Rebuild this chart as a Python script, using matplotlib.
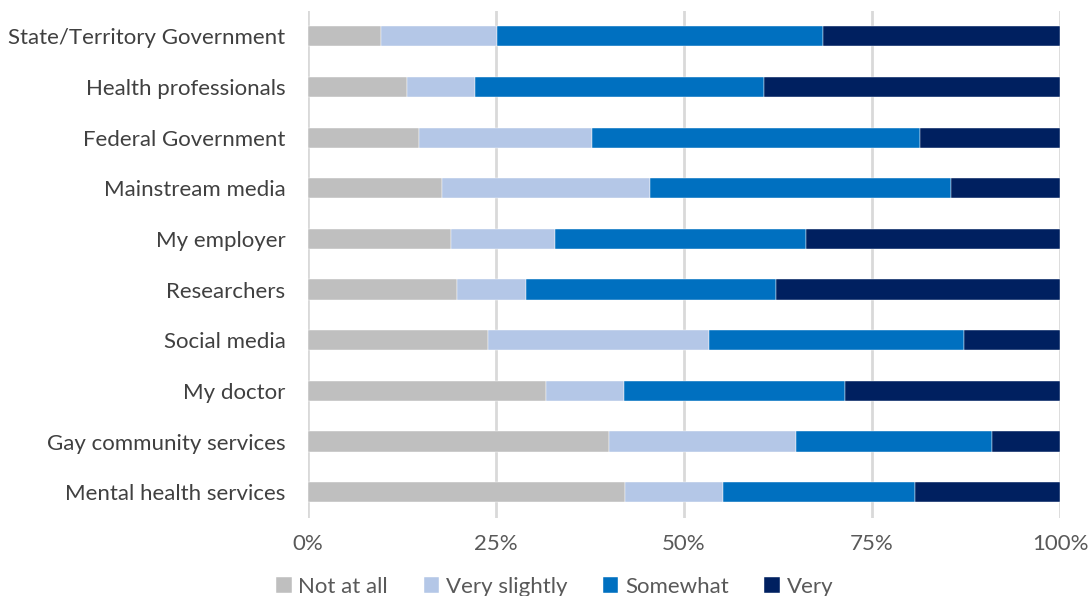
import matplotlib.pyplot as plt
import numpy as np

SOURCES = [
    'State/Territory Government',
    'Health professionals',
    'Federal Government',
    'Mainstream media',
    'My employer',
    'Researchers',
    'Social media',
    'My doctor',
    'Gay community services',
    'Mental health services',
]
NOT_AT_ALL = [9.7, 13.2, 14.8, 17.8, 19.0, 19.8, 23.9, 31.7, 40.1, 42.2]
VERY_SLIGHTLY = [15.4, 9.1, 23.0, 27.7, 13.9, 9.2, 29.4, 10.3, 24.8, 13.0]
SOMEWHAT = [43.4, 38.3, 43.6, 40.0, 33.3, 33.2, 33.9, 29.4, 26.0, 25.5]
VERY = [31.5, 39.4, 18.6, 14.5, 33.8, 37.8, 12.8, 28.6, 9.1, 19.3]

LEVELS = ['Not at all', 'Very slightly', 'Somewhat', 'Very']
COLORS = ['#BFBFBF', '#B4C7E7', '#0070C0', '#002060']

plt.rcParams['font.family'] = ['Lato', 'DejaVu Sans']

fig = plt.figure(figsize=(10.92, 5.96), dpi=100)
ax = fig.add_axes([0.2818, 0.1317, 0.6889, 0.8498])

y = np.arange(len(SOURCES))
left = np.zeros(len(SOURCES))
for name, vals, col in zip(LEVELS, [NOT_AT_ALL, VERY_SLIGHTLY, SOMEWHAT, VERY], COLORS):
    vals = np.array(vals)
    ax.barh(y, vals, left=left, height=0.4, color=col, label=name,
            edgecolor='white', linewidth=0.3, zorder=3)
    left += vals

ax.set_xlim(0, 100)
ax.set_ylim(len(SOURCES) - 0.5, -0.5)
ax.set_yticks(y)
ax.set_yticklabels(SOURCES, fontsize=16, color='#404040')
ax.set_xticks([0, 25, 50, 75, 100])
ax.set_xticklabels(['0%', '25%', '50%', '75%', '100%'], fontsize=16, color='#595959')
ax.tick_params(length=0)
ax.tick_params(axis='x', pad=12)
ax.tick_params(axis='y', pad=16)

for s in ax.spines.values():
    s.set_visible(False)
ax.grid(axis='x', color='#D9D9D9', linewidth=2, zorder=0)

handles, labels = ax.get_legend_handles_labels()
fig.legend(handles, labels, loc='lower center', ncol=4, frameon=False,
           bbox_to_anchor=(0.508, -0.035), fontsize=16, handlelength=0.7,
           handleheight=0.7, handletextpad=0.3, columnspacing=1.6,
           labelcolor='#595959')

fig.savefig('out.png', dpi=100)
